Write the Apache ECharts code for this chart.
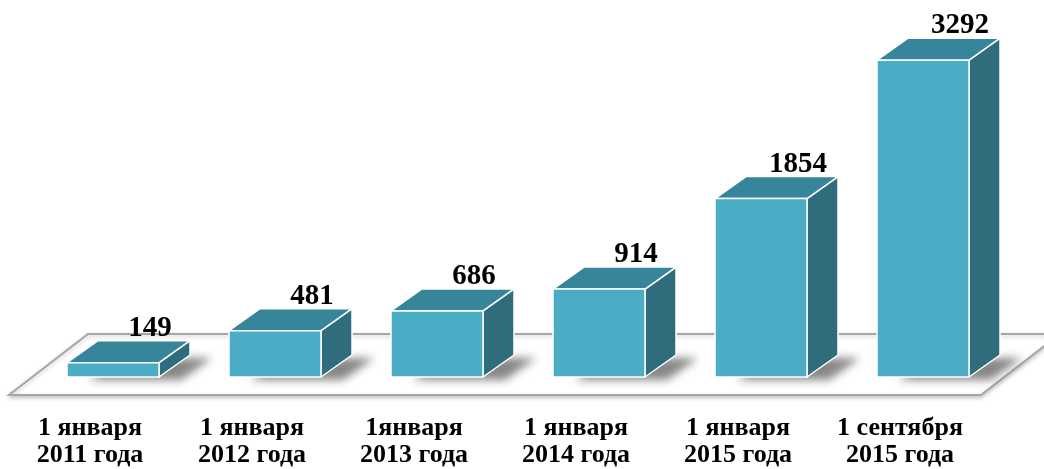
<!DOCTYPE html>
<html>
<head>
<meta charset="utf-8">
<script src="https://cdn.jsdelivr.net/npm/echarts@6/dist/echarts.min.js"></script>
<style>
  html, body { margin: 0; padding: 0; background: #ffffff; }
  #chart { width: 1044px; height: 469px; }
</style>
</head>
<body>
<div id="chart"></div>
<script>
// Dates of the count
const categories = [
  '1 января\n2011 года',
  '1 января\n2012 года',
  '1января\n2013 года',
  '1 января\n2014 года',
  '1 января\n2015 года',
  '1 сентября\n2015 года'
];
// Counts at each date
const values = [149, 481, 686, 914, 1854, 3292];

// Pseudo-3D geometry (pixels)
const FLOOR_DX = 79, FLOOR_DY = -61;      // depth of the floor plate
const BAR_SHIFT_X = 23, BAR_SHIFT_Y = 18; // bars stand a little behind the front edge
const BAR_W = 92;                         // front face width
const DEPTH_X = 31, DEPTH_Y = -22;        // depth of each box
const FAR = 3000;                         // off-screen offset used to draw blurred shadows only

const FRONT = '#4bacc6';
const TOP = '#37859a';
const SIDE = '#2f6d7d';

const chart = echarts.init(document.getElementById('chart'), null, { renderer: 'canvas' });

function renderFloor(params, api) {
  const cs = params.coordSys;
  const fy = cs.y + cs.height;
  const fl = cs.x, fr = cs.x + cs.width;
  return {
    type: 'polygon',
    shape: { points: [[fl, fy], [fr, fy], [fr + FLOOR_DX, fy + FLOOR_DY], [fl + FLOOR_DX, fy + FLOOR_DY]] },
    style: {
      fill: '#ffffff',
      stroke: '#a6a6a6',
      lineWidth: 2,
      shadowBlur: 4,
      shadowColor: 'rgba(0,0,0,0.2)',
      shadowOffsetY: 2
    },
    z2: 1
  };
}

function renderBar(params, api) {
  const i = api.value(0);
  const v = api.value(1);
  const base = api.coord([i, 0]);
  const top = api.coord([i, v]);
  const cx = base[0] + BAR_SHIFT_X;
  const x0 = cx - BAR_W / 2, x1 = cx + BAR_W / 2;
  const yb = base[1] - BAR_SHIFT_Y;
  const yt = top[1] - BAR_SHIFT_Y;

  const edge = { stroke: '#ffffff', lineWidth: 1.5, lineJoin: 'round' };

  // footprint of the box, shifted right and slightly down, cast as a soft shadow
  const sx = 22 - FAR, sy = 3;
  const shadowPts = [
    [x0 + sx, yb + sy],
    [x1 + sx, yb + sy],
    [x1 + DEPTH_X + sx, yb + DEPTH_Y + sy],
    [x0 + DEPTH_X + sx, yb + DEPTH_Y + sy]
  ];

  return {
    type: 'group',
    children: [
      {
        type: 'polygon',
        shape: { points: shadowPts },
        style: {
          fill: '#000000',
          shadowColor: 'rgba(70,70,70,0.65)',
          shadowBlur: 9,
          shadowOffsetX: FAR
        },
        z2: 2
      },
      // side face
      {
        type: 'polygon',
        shape: { points: [[x1, yt], [x1 + DEPTH_X, yt + DEPTH_Y], [x1 + DEPTH_X, yb + DEPTH_Y], [x1, yb]] },
        style: Object.assign({ fill: SIDE }, edge),
        z2: 3
      },
      // top face
      {
        type: 'polygon',
        shape: { points: [[x0, yt], [x1, yt], [x1 + DEPTH_X, yt + DEPTH_Y], [x0 + DEPTH_X, yt + DEPTH_Y]] },
        style: Object.assign({ fill: TOP }, edge),
        z2: 3
      },
      // front face
      {
        type: 'rect',
        shape: { x: x0, y: yt, width: BAR_W, height: yb - yt },
        style: Object.assign({ fill: FRONT }, edge),
        z2: 4
      },
      // value label
      {
        type: 'text',
        style: {
          text: String(v),
          x: cx + 37,
          y: yt + DEPTH_Y + 2,
          textAlign: 'center',
          textVerticalAlign: 'bottom',
          font: 'bold 29px "Liberation Serif", "Times New Roman", serif',
          fill: '#000000'
        },
        z2: 5
      }
    ]
  };
}

chart.setOption({
  animation: false,
  backgroundColor: '#ffffff',
  grid: { left: 9, right: 63, top: 10, bottom: 74, containLabel: false, outerBoundsMode: 'none' },
  xAxis: {
    type: 'category',
    data: categories,
    axisLine: { show: false },
    axisTick: { show: false },
    axisLabel: {
      margin: 20,
      interval: 0,
      color: '#000000',
      fontFamily: '"Liberation Serif", "Times New Roman", serif',
      fontWeight: 'bold',
      fontSize: 26,
      lineHeight: 27
    }
  },
  yAxis: {
    type: 'value',
    min: 0,
    max: 4000,
    show: false,
    splitLine: { show: false }
  },
  series: [
    {
      type: 'custom',
      renderItem: renderFloor,
      data: [[0, 0]],
      silent: true,
      z: 1
    },
    {
      type: 'custom',
      renderItem: renderBar,
      data: values.map((v, i) => [i, v]),
      z: 2
    }
  ]
});
</script>
</body>
</html>
